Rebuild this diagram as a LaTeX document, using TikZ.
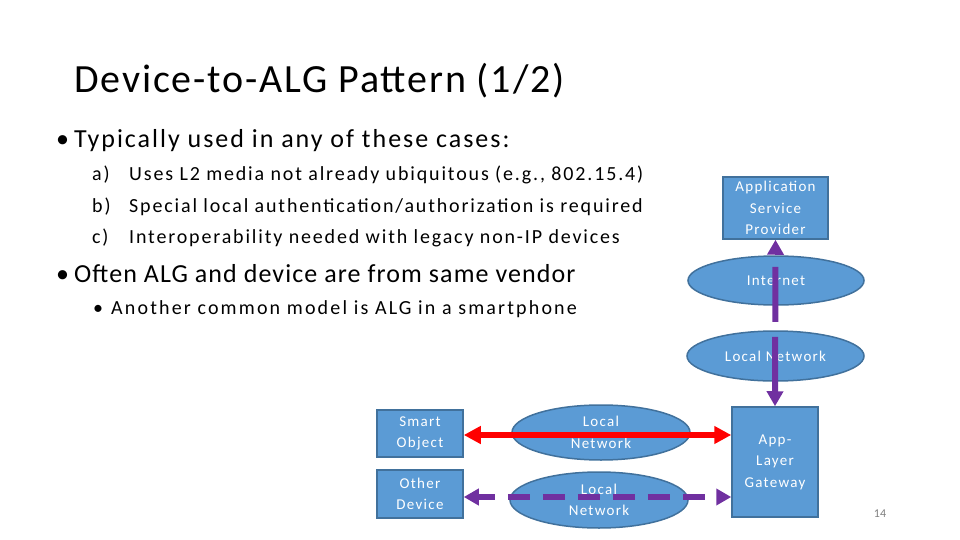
\documentclass[tikz,border=0pt]{standalone}
\usepackage{fontspec}
\setmainfont{Carlito}
\usetikzlibrary{shapes.geometric,arrows.meta}
\definecolor{boxblue}{HTML}{5B9BD5}
\definecolor{boxedge}{HTML}{41719C}
\definecolor{arrpurple}{HTML}{7030A0}
\definecolor{arrred}{HTML}{FF0000}
\newcommand\fnttitle{\fontsize{40}{48}\selectfont\addfontfeatures{LetterSpace=4.6}}
\newcommand\fntsub{\fontsize{20}{24}\selectfont\addfontfeatures{LetterSpace=9.2}}
\newcommand\fntshape{\fontsize{15}{21.5}\selectfont\addfontfeatures{LetterSpace=8.5}}
\tikzset{
  blkbox/.style={rectangle, fill=boxblue, draw=boxedge, line width=1.5pt, text=white, align=center, inner sep=0pt,
    font=\fntshape},
  blkell/.style={ellipse, fill=boxblue, draw=boxedge, line width=1.5pt, text=white, align=center, inner sep=0pt,
    font=\fntshape},
  txt/.style={anchor=base west, inner sep=0pt, text=black},
  redarrow/.style={draw=arrred, line width=6pt, {Triangle[length=17pt,width=17pt]}-{Triangle[length=17pt,width=17pt]}},
  purparrow/.style={draw=arrpurple, line width=6pt, {Triangle[length=15pt,width=16pt]}-{Triangle[length=15pt,width=16pt]}},
}
\begin{document}
\begin{tikzpicture}[x=1pt,y=-1pt]
\useasboundingbox (0,0) rectangle (960,540);
% title and text
\node[txt, font=\fnttitle] (title) at (74,93) {Device-to-ALG Pattern (1/2)};
\node[txt, font=\fontsize{26}{30}\selectfont] (b1m) at (56,148) {•};
\node[txt, font=\fontsize{26}{30}\selectfont\addfontfeatures{LetterSpace=7.6}] (b1) at (74,148) {Typically used in any of these cases:};
\node[txt, font=\fntsub] (la) at (92,181) {a)};
\node[txt, font=\fntsub] (ta) at (129,181) {Uses L2 media not already ubiquitous (e.g., 802.15.4)};
\node[txt, font=\fntsub] (lb) at (92,212) {b)};
\node[txt, font=\fntsub] (tb) at (129,212) {Special local authentication/authorization is required};
\node[txt, font=\fntsub] (lc) at (92,243) {c)};
\node[txt, font=\fntsub] (tc) at (129,243) {Interoperability needed with legacy non-IP devices};
\node[txt, font=\fontsize{26}{30}\selectfont] (b2m) at (56,282) {•};
\node[txt, font=\fontsize{26}{30}\selectfont\addfontfeatures{LetterSpace=4.2}] (b2) at (74,282) {Often ALG and device are from same vendor};
\node[txt, font=\fontsize{20}{24}\selectfont] (b3m) at (93,314) {•};
\node[txt, font=\fontsize{20}{24}\selectfont\addfontfeatures{LetterSpace=10.8}] (b3) at (111,314) {Another common model is ALG in a smartphone};
% diagram shapes
\node[blkbox, minimum width=105pt, minimum height=62pt] (asp) at (775.5,208) {Application\\Service\\Provider};
\node[blkell, minimum width=176pt, minimum height=49pt] (inet) at (776,280.5) {Internet};
\node[blkell, minimum width=177pt, minimum height=50pt] (lan) at (775.5,356) {Local Network};
\node[blkbox, minimum width=86pt, minimum height=110pt] (alg) at (775,462) {App-\\Layer\\Gateway};
\node[blkbox, minimum width=86pt, minimum height=47pt] (smart) at (420,433.5) {Smart\\Object};
\node[blkbox, minimum width=86pt, minimum height=48pt] (other) at (420,494) {Other\\Device};
\node[blkell, minimum width=178pt, minimum height=55pt] (ln1) at (601,432.5) {Local\\Network};
\node[blkell, minimum width=178pt, minimum height=56pt] (ln2) at (599,500) {Local\\Network};
% page number
\node[anchor=center, inner sep=0pt, text=black!50, font=\fontsize{12}{14}\selectfont] (pg) at (880,514) {14};
% connectors
\draw[redarrow] ([yshift=-1.5pt]smart.east) -- ([yshift=-1.5pt]smart.east -| alg.west);
\draw[purparrow, dash pattern=on 22pt off 13pt, dash phase=5pt] ([yshift=-3pt]other.east) -- ([yshift=-3pt]other.east -| alg.west);
\draw[purparrow, dash pattern=on 55pt off 15pt, dash phase=57pt] (asp.south) -- (alg.north);
\end{tikzpicture}
\end{document}
